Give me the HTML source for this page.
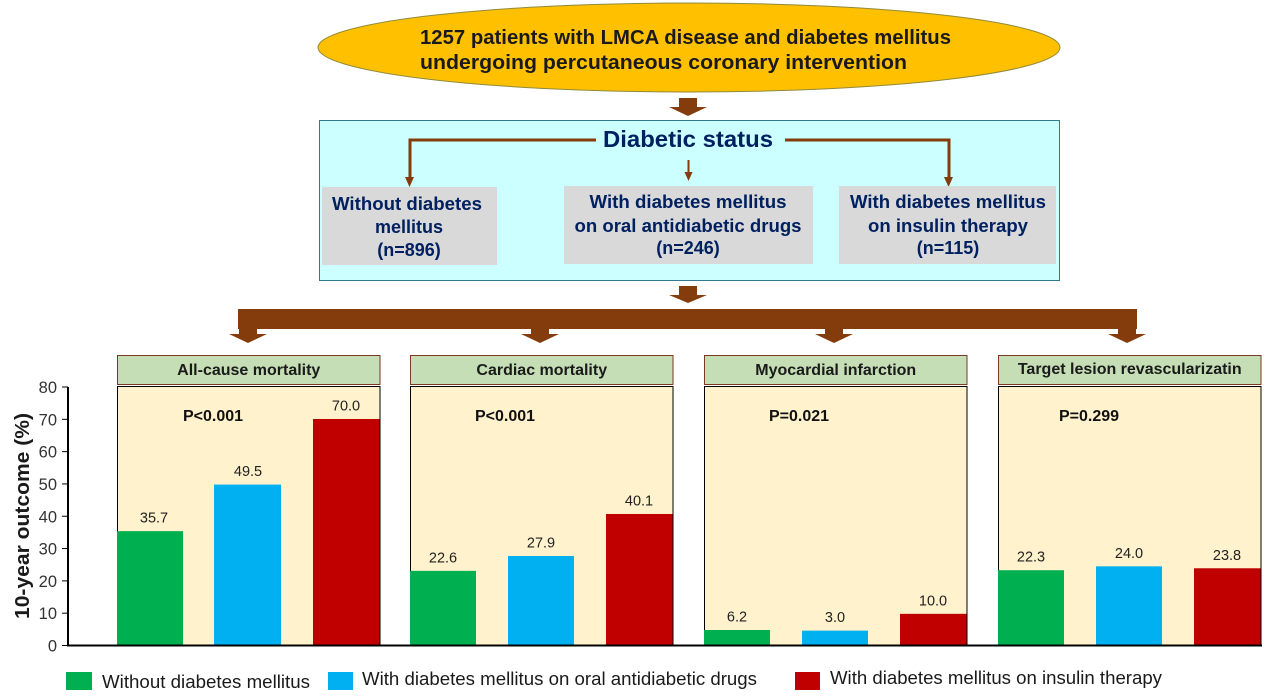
<!DOCTYPE html>
<html lang="en">
<head>
<meta charset="utf-8">
<title>10-year outcomes by diabetic status</title>
<style>
html,body{margin:0;padding:0;background:#fff;}
svg{display:block;font-family:"Liberation Sans",Arial,sans-serif;}
</style>
</head>
<body>
<svg id="chart" xmlns="http://www.w3.org/2000/svg" width="1271" height="700" viewBox="0 0 1271 700">
  <rect width="1271" height="700" fill="#fff"/>

  <ellipse cx="689" cy="47.5" rx="371" ry="44.5" fill="#FFC000" stroke="#8f8a3a" stroke-width="1"/>
  <text x="420" y="44" font-size="20" font-weight="700" fill="#1a1a1a" textLength="531" lengthAdjust="spacingAndGlyphs">1257 patients with LMCA disease and diabetes mellitus</text>
  <text x="420" y="69" font-size="20" font-weight="700" fill="#1a1a1a" textLength="487" lengthAdjust="spacingAndGlyphs">undergoing percutaneous coronary intervention</text>

  <path d="M679 98H697V107H707L688 116L669 107H679Z" fill="#843C0C"/>

  <rect x="319.5" y="120.5" width="740" height="160" fill="#CCFFFF" stroke="#31798c" stroke-width="1"/>
  <text x="603" y="147" font-size="23" font-weight="700" fill="#002060" textLength="170" lengthAdjust="spacingAndGlyphs">Diabetic status</text>

  <path d="M596 140H410V178" fill="none" stroke="#843C0C" stroke-width="3"/>
  <path d="M405 177H414L409.500 187Z" fill="#843C0C"/>
  <path d="M688.500 160V174" fill="none" stroke="#843C0C" stroke-width="2"/>
  <path d="M684.500 172H692.500L688.500 181Z" fill="#843C0C"/>
  <path d="M785 140H949V178" fill="none" stroke="#843C0C" stroke-width="3"/>
  <path d="M944 177H953L948.500 187Z" fill="#843C0C"/>

  <g font-size="18" font-weight="700" fill="#002060" text-anchor="middle">
    <rect x="322" y="187" width="175" height="78" fill="#D9D9D9"/>
    <text x="407" y="210" textLength="150" lengthAdjust="spacingAndGlyphs">Without diabetes</text>
    <text x="409" y="233">mellitus</text>
    <text x="409" y="256">(n=896)</text>
  </g>
  <g font-size="18" font-weight="700" fill="#002060" text-anchor="middle">
    <rect x="564" y="186" width="249" height="78" fill="#D9D9D9"/>
    <text x="688" y="208" textLength="197" lengthAdjust="spacingAndGlyphs">With diabetes mellitus</text>
    <text x="688" y="232" textLength="227" lengthAdjust="spacingAndGlyphs">on oral antidiabetic drugs</text>
    <text x="688" y="254">(n=246)</text>
  </g>
  <g font-size="18" font-weight="700" fill="#002060" text-anchor="middle">
    <rect x="839" y="186" width="217" height="78" fill="#D9D9D9"/>
    <text x="948" y="208" textLength="196" lengthAdjust="spacingAndGlyphs">With diabetes mellitus</text>
    <text x="948" y="232" textLength="160" lengthAdjust="spacingAndGlyphs">on insulin therapy</text>
    <text x="948" y="254">(n=115)</text>
  </g>

  <path d="M679 286H697V295H707L688 303L669 295H679Z" fill="#843C0C"/>
  <rect x="238" y="309" width="899" height="20" fill="#843C0C"/>
  <path d="M239 329H257V334H267L248 343L229 334H239Z" fill="#843C0C"/>
  <path d="M531 329H549V334H559L540 343L521 334H531Z" fill="#843C0C"/>
  <path d="M825 329H843V334H853L834 343L815 334H825Z" fill="#843C0C"/>
  <path d="M1118 329H1136V334H1146L1127 343L1108 334H1118Z" fill="#843C0C"/>

  <g id="panels"></g>
  <g id="y-axis"></g>
  <line x1="67" y1="645.500" x2="1262" y2="645.500" stroke="#000" stroke-width="2"/>

  <text transform="translate(29,516) rotate(-90)" text-anchor="middle" font-size="20" font-weight="700" fill="#1a1a1a" textLength="206" lengthAdjust="spacingAndGlyphs">10-year outcome (%)</text>

  <g font-size="18" fill="#1a1a1a">
    <g>
      <rect x="66" y="672" width="26" height="18" fill="#00B050"/>
      <text x="102" y="688" textLength="208" lengthAdjust="spacingAndGlyphs">Without diabetes mellitus</text>
    </g>
    <g>
      <rect x="328" y="672" width="25" height="18" fill="#00B0F0"/>
      <text x="362" y="685" textLength="395" lengthAdjust="spacingAndGlyphs">With diabetes mellitus on oral antidiabetic drugs</text>
    </g>
    <g>
      <rect x="795" y="672" width="25" height="18" fill="#C00000"/>
      <text x="830" y="684" textLength="332" lengthAdjust="spacingAndGlyphs">With diabetes mellitus on insulin therapy</text>
    </g>
  </g>
</svg>

<script>
const outcomes = ["All-cause mortality", "Cardiac mortality", "Myocardial infarction", "Target lesion revascularizatin"];
const pValues = ["P<0.001", "P<0.001", "P=0.021", "P=0.299"];
const withoutDiabetes = [35.4, 23.1, 4.8, 23.3];
const oralDrugs = [49.8, 27.7, 4.6, 24.5];
const insulinTherapy = [70.1, 40.7, 9.8, 23.9];
const withoutDiabetesLabels = ["35.7", "22.6", "6.2", "22.3"];
const oralDrugsLabels = ["49.5", "27.9", "3.0", "24.0"];
const insulinTherapyLabels = ["70.0", "40.1", "10.0", "23.8"];
const yTicks = [0, 10, 20, 30, 40, 50, 60, 70, 80];

const NS = "http://www.w3.org/2000/svg";
const plotBottom = 645.5, plotTop = 387, yMax = 80;
const panelLeft = [117, 410, 704, 998];
const panelWidth = 262.5, barWidth = 66, barGap = 32;
function yScale(v) { return plotBottom - (v / yMax) * (plotBottom - plotTop); }
function barX(panel, series) { return panelLeft[panel] + series * (barWidth + barGap); }
function make(tag, attrs, parent, content) {
  const el = document.createElementNS(NS, tag);
  for (const k in attrs) el.setAttribute(k, attrs[k]);
  if (content !== undefined) el.textContent = content;
  parent.appendChild(el);
  return el;
}

const axisGroup = document.getElementById("y-axis");
const axisLine = make("line", { x1: 68, y1: yScale(yMax), x2: 68, y2: plotBottom, stroke: "#000", "stroke-width": 2 }, axisGroup);


yTicks.forEach(function (t) {
  const tick = make("line", { x1: 62, y1: yScale(t), x2: 68, y2: yScale(t), stroke: "#000", "stroke-width": 1 }, axisGroup);
  
  
  const label = make("text", { x: 57, y: yScale(t) + 6, "text-anchor": "end", "font-size": 16.5, fill: "#333" }, axisGroup, String(t));
  
  
});

const panelsGroup = document.getElementById("panels");
const seriesValues = [withoutDiabetes, oralDrugs, insulinTherapy];
const seriesLabels = [withoutDiabetesLabels, oralDrugsLabels, insulinTherapyLabels];
const seriesColors = ["#00B050", "#00B0F0", "#C00000"];
outcomes.forEach(function (name, p) {
  const x0 = panelLeft[p];
  const header = make("rect", { x: x0 + 0.5, y: 355.5, width: panelWidth, height: 29, fill: "#C5DEB5", stroke: "#7b3a20", "stroke-width": 1 }, panelsGroup);
  
  
  const title = make("text", { x: x0 + panelWidth / 2 + 0.5, y: p === 3 ? 374 : 375, "text-anchor": "middle", "font-size": 16, "font-weight": 700, fill: "#1a1a1a" }, panelsGroup, name);
  
  
  const bg = make("rect", { x: x0 + 0.5, y: 386.5, width: panelWidth, height: 259, fill: "#FFF2CC", stroke: "#000", "stroke-width": 1 }, panelsGroup);
  
  
  const pText = make("text", { x: x0 + (p === 3 ? 61 : p === 0 ? 66 : 65), y: 421, "font-size": 16, "font-weight": 700, fill: "#111" }, panelsGroup, pValues[p]);
  
  
  seriesValues.forEach(function (values, s) {
    const top = yScale(values[p]);
    const bar = make("rect", { x: barX(p, s) - (p === 0 && s === 1 ? 1 : 0), y: top, width: barWidth + (p === 0 && s === 1 ? 1 : 0) + (s === 2 ? 0.5 : 0), height: plotBottom - top, fill: seriesColors[s] }, panelsGroup);
    
    
    const value = make("text", { x: barX(p, s) + barWidth / 2 + (p === 0 && s === 0 ? 4 : 0), y: top - 8.5, "text-anchor": "middle", "font-size": 14.5, fill: "#222" }, panelsGroup, seriesLabels[s][p]);
    
    
  });
});
</script>
</body>
</html>
